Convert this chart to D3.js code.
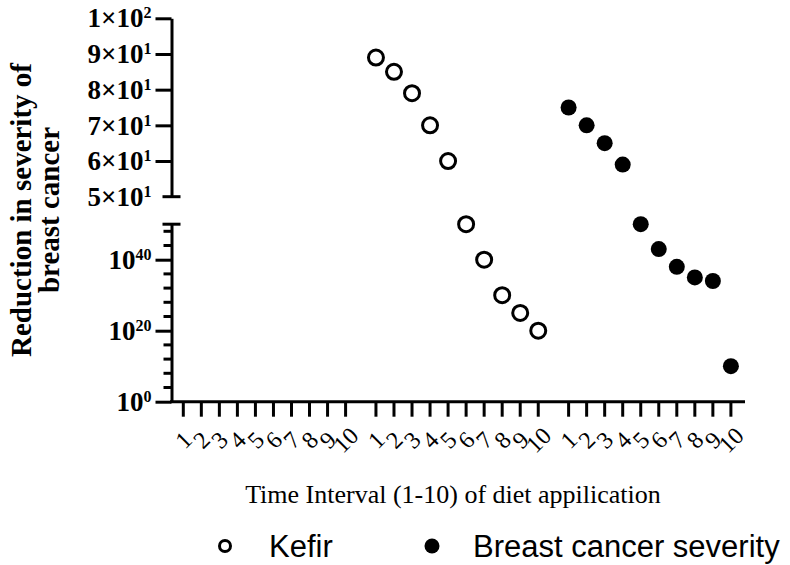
<!DOCTYPE html>
<html>
<head>
<meta charset="utf-8">
<script src="https://cdn.jsdelivr.net/npm/d3@7"></script>
<style>
  html, body { margin: 0; padding: 0; background: #fff; }
  svg { display: block; }
</style>
</head>
<body>
<svg id="chart" width="790" height="565"></svg>
<script>
// ---------- data ----------
const groups = ["G1", "G2", "G3"];
const intervals = ["1", "2", "3", "4", "5", "6", "7", "8", "9", "10"];
const kefirGroup = "G2";
const kefirValues = [89, 85, 79, 70, 60, 1e50, 1e40, 1e30, 1e25, 1e20];
const breastGroup = "G3";
const breastValues = [75, 70, 65, 59, 1e50, 1e43, 1e38, 1e35, 1e34, 1e10];
const upperTicks = [50, 60, 70, 80, 90, 100];
const upperLabels = [["5×10", "1"], ["6×10", "1"], ["7×10", "1"], ["8×10", "1"], ["9×10", "1"], ["1×10", "2"]];
const lowerMajorExp = [0, 20, 40];
const lowerMinorExp = [4, 8, 12, 16, 24, 28, 32, 36, 44, 48];
const legendNames = ["Kefir", "Breast cancer severity"];

// ---------- scales ----------
const axisX = 171.5, axisY = 401.7;
const xGroup = d3.scaleBand().domain(groups).range([183.3, 730.9]).paddingInner(0.1576).paddingOuter(0);
const xInner = d3.scalePoint().domain(intervals).range([0, xGroup.bandwidth()]);
const X = (g, i) => xGroup(g) + xInner(i);

const yUpper = d3.scaleLinear().domain([50, 100]).range([196.7, 18.3]);
const yLower = d3.scaleLog().domain([1, 1e50]).range([axisY, 224.2]);
const Y = v => (v <= 100 ? yUpper(v) : yLower(v));

const svg = d3.select("#chart");
const serif = "'Liberation Serif', 'Times New Roman', serif";
const sans = "'Liberation Sans', Arial, sans-serif";

// ---------- y axis: upper segment ----------
const gU = svg.append("g").attr("transform", `translate(${axisX},0)`);
gU.call(d3.axisLeft(yUpper).tickValues(upperTicks.filter(t => t !== 50)).tickSize(16).tickSizeOuter(0).tickFormat(""));
gU.select(".domain").attr("stroke", "#000").attr("stroke-width", 3);
gU.selectAll(".tick line").attr("stroke", "#000").attr("stroke-width", 3);
// break cap at 50
gU.append("line").attr("x1", -9).attr("x2", 9).attr("y1", yUpper(50)).attr("y2", yUpper(50))
  .attr("stroke", "#000").attr("stroke-width", 3);

upperTicks.forEach((t, k) => {
  const txt = svg.append("text")
    .attr("x", axisX - 20).attr("y", yUpper(t)).attr("dy", "0.34em")
    .attr("text-anchor", "end").attr("font-family", serif).attr("font-weight", "bold")
    .attr("font-size", 27);
  txt.append("tspan").text(upperLabels[k][0]);
  txt.append("tspan").attr("dy", -9).attr("font-size", 16).text(upperLabels[k][1]);
});

// ---------- y axis: lower segment ----------
const gL = svg.append("g").attr("transform", `translate(${axisX},0)`);
gL.call(d3.axisLeft(yLower).tickValues(lowerMajorExp.map(e => Math.pow(10, e))).tickSize(16).tickSizeOuter(0).tickFormat(""));
gL.select(".domain").attr("stroke", "#000").attr("stroke-width", 3);
gL.selectAll(".tick line").attr("stroke", "#000").attr("stroke-width", 3);
gL.selectAll(".minor").data(lowerMinorExp).join("line")
  .attr("x1", -8).attr("x2", 0)
  .attr("y1", e => yLower(Math.pow(10, e))).attr("y2", e => yLower(Math.pow(10, e)))
  .attr("stroke", "#000").attr("stroke-width", 3);
gL.append("line").attr("x1", -9).attr("x2", 9).attr("y1", yLower(1e50)).attr("y2", yLower(1e50))
  .attr("stroke", "#000").attr("stroke-width", 3);

lowerMajorExp.forEach(e => {
  const txt = svg.append("text")
    .attr("x", axisX - 20).attr("y", yLower(Math.pow(10, e))).attr("dy", "0.34em")
    .attr("text-anchor", "end").attr("font-family", serif).attr("font-weight", "bold")
    .attr("font-size", 27);
  txt.append("tspan").text("10");
  txt.append("tspan").attr("dy", -9).attr("font-size", 16).text(String(e));
});

// ---------- x axis ----------
svg.append("line").attr("x1", axisX - 1.5).attr("x2", 745).attr("y1", axisY).attr("y2", axisY)
  .attr("stroke", "#000").attr("stroke-width", 3);
const xTicks = [];
groups.forEach(g => intervals.forEach(i => xTicks.push({ g, i })));
svg.selectAll(".xtick").data(xTicks).join("line")
  .attr("x1", d => X(d.g, d.i)).attr("x2", d => X(d.g, d.i))
  .attr("y1", axisY).attr("y2", axisY + 15)
  .attr("stroke", "#000").attr("stroke-width", 3);
svg.selectAll(".xlab").data(xTicks).join("text")
  .attr("transform", d => `translate(${X(d.g, d.i)},${axisY + 38}) rotate(-45)`)
  .attr("text-anchor", "middle").attr("dy", "0.35em")
  .attr("font-family", serif).attr("font-size", 24)
  .text(d => d.i);

// ---------- titles ----------
svg.append("text")
  .attr("x", 453).attr("y", 503).attr("text-anchor", "middle")
  .attr("font-family", serif).attr("font-size", 26)
  .text("Time Interval (1-10) of diet appilication");

const yt = svg.append("text")
  .attr("transform", "translate(0,210) rotate(-90)")
  .attr("text-anchor", "middle").attr("font-family", serif).attr("font-weight", "bold")
  .attr("font-size", 29);
yt.append("tspan").attr("x", 0).attr("y", 31).text("Reduction in severity of");
yt.append("tspan").attr("x", 0).attr("y", 59).text("breast cancer");

// ---------- points ----------
svg.selectAll(".kefir").data(kefirValues).join("circle")
  .attr("cx", (v, k) => X(kefirGroup, intervals[k])).attr("cy", v => Y(v))
  .attr("r", 7.5).attr("fill", "#fff").attr("stroke", "#000").attr("stroke-width", 3);
svg.selectAll(".breast").data(breastValues).join("circle")
  .attr("cx", (v, k) => X(breastGroup, intervals[k])).attr("cy", v => Y(v))
  .attr("r", 8).attr("fill", "#000");

// ---------- legend ----------
const leg = svg.append("g");
leg.append("circle").attr("cx", 225).attr("cy", 546).attr("r", 5.5).attr("fill", "#fff")
  .attr("stroke", "#000").attr("stroke-width", 3);
leg.append("text").attr("x", 269).attr("y", 557).attr("font-family", sans).attr("font-size", 31).text(legendNames[0]);
leg.append("circle").attr("cx", 432).attr("cy", 546).attr("r", 7.5).attr("fill", "#000");
leg.append("text").attr("x", 473).attr("y", 557).attr("font-family", sans).attr("font-size", 31).text(legendNames[1]);
</script>
</body>
</html>
